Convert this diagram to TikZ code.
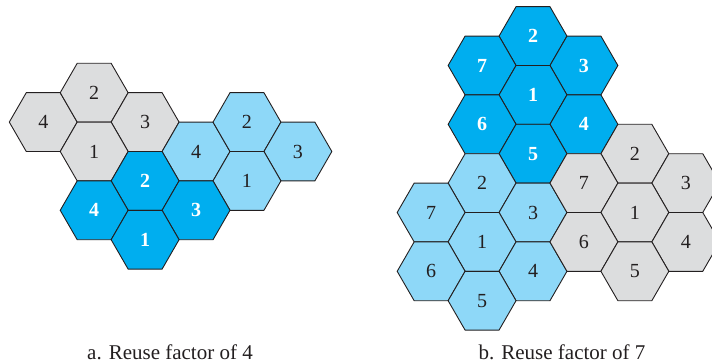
\documentclass[tikz,border=0pt]{standalone}
\usepackage{fontspec}
\setmainfont{Liberation Serif}
\usetikzlibrary{shapes.geometric}
\definecolor{cgray}{HTML}{DCDDDE}
\definecolor{clight}{HTML}{8ED8F8}
\definecolor{cdark}{HTML}{00AEEF}
\definecolor{cline}{HTML}{231F20}
\tikzset{
  hex/.style={regular polygon, regular polygon sides=6, minimum size=67.9pt,
    inner sep=0pt, outer sep=0pt, draw=cline, line width=0.9pt,
    font=\fontsize{20}{20}\selectfont},
  grayhex/.style={hex, fill=cgray, text=cline},
  lighthex/.style={hex, fill=clight, text=cline},
  darkhex/.style={hex, fill=cdark, text=white, font=\fontsize{20}{20}\selectfont\bfseries},
  captext/.style={font=\fontsize{21}{21}\selectfont, text=cline, inner sep=0pt}
}
\begin{document}
\begin{tikzpicture}[x=1pt,y=-1pt]
\useasboundingbox (0,0) rectangle (712,364);
\clip (0,0) rectangle (712,364);
% ---------- a. Reuse factor of 4 ----------
\node[grayhex]  (ag4) at (43.25,122.1)  {4};
\node[grayhex]  (ag2) at (94.18,92.7)   {2};
\node[grayhex]  (ag3) at (145.11,122.1) {3};
\node[grayhex]  (ag1) at (94.18,151.5)  {1};
\node[lighthex] (al4) at (196.04,151.5) {4};
\node[lighthex] (al2) at (246.97,122.1) {2};
\node[lighthex] (al3) at (297.9,151.5)  {3};
\node[lighthex] (al1) at (246.97,180.9) {1};
\node[darkhex]  (ad2) at (145.11,180.9) {2};
\node[darkhex]  (ad4) at (94.18,210.3)  {4};
\node[darkhex]  (ad3) at (196.04,210.3) {3};
\node[darkhex]  (ad1) at (145.11,239.7) {1};
% ---------- b. Reuse factor of 7 ----------
\node[darkhex]  (bd2) at (533,36.1)     {2};
\node[darkhex]  (bd7) at (482.07,65.5)  {7};
\node[darkhex]  (bd3) at (583.93,65.5)  {3};
\node[darkhex]  (bd1) at (533,94.9)     {1};
\node[darkhex]  (bd6) at (482.07,124.3) {6};
\node[darkhex]  (bd4) at (583.93,124.3) {4};
\node[darkhex]  (bd5) at (533,153.7)    {5};
\node[lighthex] (bl2) at (482.07,183.1) {2};
\node[lighthex] (bl7) at (431.14,212.5) {7};
\node[lighthex] (bl3) at (533,212.5)    {3};
\node[lighthex] (bl1) at (482.07,241.9) {1};
\node[lighthex] (bl6) at (431.14,271.3) {6};
\node[lighthex] (bl4) at (533,271.3)    {4};
\node[lighthex] (bl5) at (482.07,300.7) {5};
\node[grayhex]  (bg2) at (634.86,153.7) {2};
\node[grayhex]  (bg7) at (583.93,183.1) {7};
\node[grayhex]  (bg3) at (685.79,183.1) {3};
\node[grayhex]  (bg1) at (634.86,212.5) {1};
\node[grayhex]  (bg6) at (583.93,241.9) {6};
\node[grayhex]  (bg4) at (685.79,241.9) {4};
\node[grayhex]  (bg5) at (634.86,271.3) {5};
% ---------- captions ----------
\node[captext] (capa) at (170,352) {a. Reuse factor of 4};
\node[captext] (capb) at (562,352) {b. Reuse factor of 7};
\end{tikzpicture}
\end{document}
